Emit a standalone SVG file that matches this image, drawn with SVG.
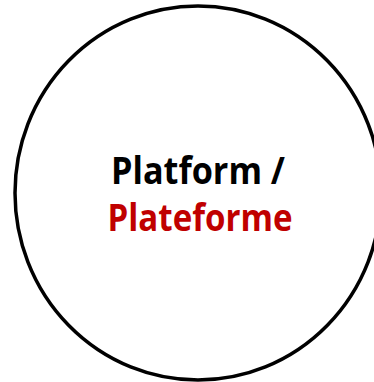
<svg xmlns="http://www.w3.org/2000/svg" width="374" height="382" viewBox="0 0 374 382">
<style>
.node{fill:#FFFFFF;stroke:#000000;stroke-width:3.5}
.lbl{font-family:"Open Sans","Liberation Sans",sans-serif;font-weight:bold;font-size:38px;text-anchor:middle}
</style>
<rect width="374" height="382" fill="#FFFFFF"/>
<g id="connectors"/>
<g id="platform">
<ellipse class="node" cx="198" cy="193" rx="183" ry="187"/>
<text class="lbl" x="198" y="184" fill="#000000" textLength="174" lengthAdjust="spacingAndGlyphs">Platform /</text>
<text class="lbl" x="200" y="231" fill="#C00000" textLength="185" lengthAdjust="spacingAndGlyphs">Plateforme</text>
</g>
</svg>
